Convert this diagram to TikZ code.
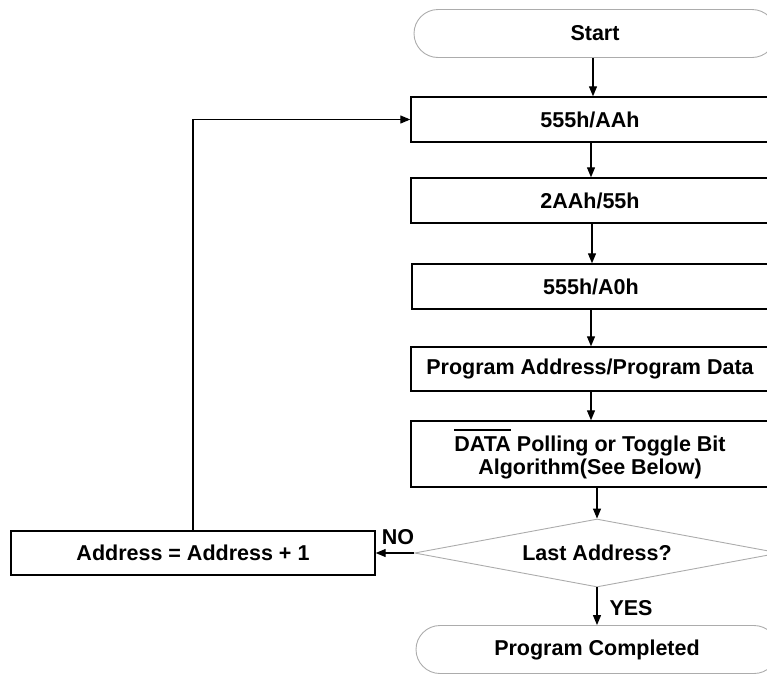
\documentclass[tikz,border=0pt]{standalone}
\usepackage{fontspec}
\setmainfont{Liberation Sans}
\usetikzlibrary{shapes.geometric,shapes.misc,arrows.meta}
% text with a bar over it
\newcommand{\barred}[1]{\setbox0\hbox{#1}\rlap{\rule[\dimexpr\ht0+5pt\relax]{\wd0}{1.8pt}}\box0\relax}

\begin{document}
\begin{tikzpicture}[x=1pt, y=-1pt,
    txt/.style={font=\fontsize{21.5}{23}\selectfont\bfseries},
    box/.style={txt, draw, line width=1.4pt, minimum width=358pt, inner sep=0pt},
    term/.style={txt, draw=gray!65, line width=0.9pt, rounded rectangle, minimum width=362pt, minimum height=48pt, inner sep=0pt},
    cond/.style={txt, draw=gray!65, line width=0.9pt, diamond, aspect=5.4, minimum width=365pt, minimum height=68pt, inner sep=0pt},
    arr/.style={-{Triangle[length=10pt,width=8pt]}, line width=1.2pt}]
    % Frame of the picture (shapes run off the right edge)
    \useasboundingbox (0, 0) rectangle (767, 675);
    \clip (0, 0) rectangle (767, 675);

    % Terminals
    \node[term] (start) at (595, 33.5) {Start};
    \node[term] (done) at (597, 649.5) {Program Completed};

    % Command steps
    \node[box, minimum height=45pt] (aah) at (590, 119.5) {555h/AAh};
    \node[box, minimum height=45pt] (two) at (590, 200.5) {2AAh/55h};
    \node[box, minimum height=45pt] (azero) at (591, 286.5) {555h/A0h};
    \node[box, minimum height=44pt] (prog) at (590, 369) {Program Address/Program Data};
    \node[box, minimum height=66pt, align=center] (poll) at (590, 454)
        {\barred{DATA} Polling or Toggle Bit\\Algorithm(See Below)};

    % Decision and increment
    \node[cond] (last) at (597, 553) {Last Address?};
    \node[box, minimum width=364pt, minimum height=44pt] (incr) at (193, 553) {Address = Address + 1};

    % Branch labels
    \node[txt] (no) at (398, 537) {NO};
    \node[txt] (yes) at (631, 608) {YES};

    % Arrows down the main path
    \draw[arr] (start.south -| 593, 0) -- (aah.north -| 593, 0);
    \draw[arr] (aah.south -| 591, 0) -- (two.north -| 591, 0);
    \draw[arr] (two.south -| 592, 0) -- (azero.north -| 592, 0);
    \draw[arr] (azero.south -| 591, 0) -- (prog.north -| 591, 0);
    \draw[arr] (prog.south -| 591, 0) -- (poll.north -| 591, 0);
    \draw[arr] (last.north |- poll.south) -- (last.north);
    \draw[arr] (last.south) -- (done.north);

    % Loop back through the increment
    \draw[arr] (last.west) -- (incr.east);
    \draw[arr] (incr.north) |- (aah.west);

\end{tikzpicture}
\end{document}
